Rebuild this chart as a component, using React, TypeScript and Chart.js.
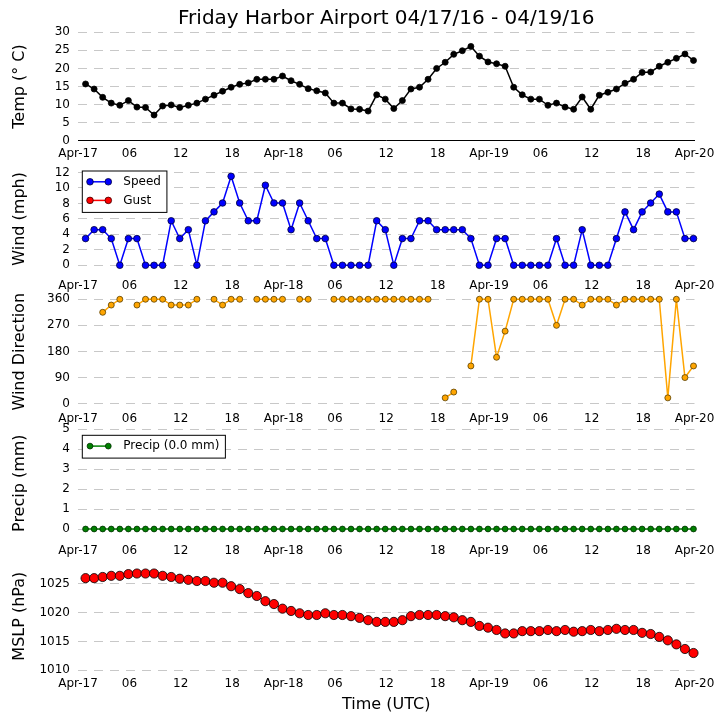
import React, { useEffect, useRef } from 'react';
import { Chart, registerables } from 'chart.js';

Chart.register(...registerables);

// observations every hour at :53, hours counted from 2016-04-17 00:00 UTC
const obsHours = Array.from({ length: 72 }, (_, i) => i + 53 / 60);

const xTickHours = [0, 6, 12, 18, 24, 30, 36, 42, 48, 54, 60, 66, 72];
const xTickLabels = ['Apr-17', '06', '12', '18', 'Apr-18', '06', '12', '18', 'Apr-19', '06', '12', '18', 'Apr-20'];

const tempValues = [
  15.7, 14.3, 12.0, 10.4, 9.8, 11.1, 9.3, 9.2, 7.1, 9.6, 9.9, 9.2, 9.8, 10.4, 11.5, 12.6, 13.7, 14.8,
  15.6, 16.0, 17.0, 17.0, 17.0, 17.9, 16.6, 15.6, 14.4, 13.8, 13.2, 10.4, 10.4, 8.8, 8.7, 8.2, 12.7, 11.5,
  8.9, 11.1, 14.3, 14.8, 17.0, 20.0, 21.7, 23.9, 24.9, 26.1, 23.4, 21.8, 21.3, 20.6, 14.8, 12.7, 11.5, 11.5,
  9.8, 10.4, 9.3, 8.7, 12.1, 8.7, 12.6, 13.4, 14.3, 15.9, 17.0, 18.9, 19.0, 20.6, 21.7, 22.8, 24.0, 22.2,
];

const speedValues = [
  3.45, 4.6, 4.6, 3.45, 0, 3.45, 3.45, 0, 0, 0, 5.75, 3.45, 4.6, 0, 5.75, 6.9, 8.05, 11.5,
  8.05, 5.75, 5.75, 10.35, 8.05, 8.05, 4.6, 8.05, 5.75, 3.45, 3.45, 0, 0, 0, 0, 0, 5.75, 4.6,
  0, 3.45, 3.45, 5.75, 5.75, 4.6, 4.6, 4.6, 4.6, 3.45, 0, 0, 3.45, 3.45, 0, 0, 0, 0,
  0, 3.45, 0, 0, 4.6, 0, 0, 0, 3.45, 6.9, 4.6, 6.9, 8.05, 9.2, 6.9, 6.9, 3.45, 3.45,
];
const gustValues: (number | null)[] = [];

const directionValues = [
  null, null, 315, 340, 360, null, 340, 360, 360, 360, 340, 340, 340, 360, null, 360, 340, 360,
  360, null, 360, 360, 360, 360, null, 360, 360, null, null, 360, 360, 360, 360, 360, 360, 360,
  360, 360, 360, 360, 360, null, 20, 40, null, 130, 360, 360, 160, 250, 360, 360, 360, 360,
  360, 270, 360, 360, 340, 360, 360, 360, 340, 360, 360, 360, 360, 360, 20, 360, 90, 130,
];

const precipValues = [
  0, 0, 0, 0, 0, 0, 0, 0, 0, 0, 0, 0, 0, 0, 0, 0, 0, 0,
  0, 0, 0, 0, 0, 0, 0, 0, 0, 0, 0, 0, 0, 0, 0, 0, 0, 0,
  0, 0, 0, 0, 0, 0, 0, 0, 0, 0, 0, 0, 0, 0, 0, 0, 0, 0,
  0, 0, 0, 0, 0, 0, 0, 0, 0, 0, 0, 0, 0, 0, 0, 0, 0, 0,
];

const mslpValues = [
  1026.0, 1026.0, 1026.2, 1026.4, 1026.4, 1026.7, 1026.8, 1026.8, 1026.8, 1026.4, 1026.2, 1025.9,
  1025.7, 1025.5, 1025.5, 1025.2, 1025.2, 1024.6, 1024.1, 1023.4, 1022.9, 1022.0, 1021.5, 1020.7,
  1020.3, 1019.9, 1019.6, 1019.6, 1019.9, 1019.6, 1019.6, 1019.4, 1019.1, 1018.7, 1018.4, 1018.4,
  1018.4, 1018.7, 1019.4, 1019.6, 1019.6, 1019.6, 1019.4, 1019.2, 1018.7, 1018.4, 1017.7, 1017.4,
  1017.0, 1016.4, 1016.4, 1016.8, 1016.8, 1016.8, 1017.0, 1016.8, 1017.0, 1016.7, 1016.8, 1017.0,
  1016.8, 1017.0, 1017.2, 1017.0, 1017.0, 1016.5, 1016.3, 1015.8, 1015.2, 1014.5, 1013.7, 1013.0,
];

const tempTicks = [0, 5, 10, 15, 20, 25, 30];
const windTicks = [0, 2, 4, 6, 8, 10, 12];
const directionTicks = [0, 90, 180, 270, 360];
const precipTicks = [0, 1, 2, 3, 4, 5];
const mslpTicks = [1010, 1015, 1020, 1025];

const SIZE = 725;
const PLOT_LEFT = 78;
const PLOT_RIGHT = 694.5;

const toPoints = (vals: (number | null)[]) => vals.map((y, i) => ({ x: obsHours[i], y }));

const series = (label: string, vals: (number | null)[], color: string, edge: string, r: number, lw = 1.5) => ({
  label,
  data: toPoints(vals),
  borderColor: color,
  backgroundColor: color,
  borderWidth: lw,
  pointRadius: r,
  pointBackgroundColor: color,
  pointBorderColor: edge,
  pointBorderWidth: 0.8,
  spanGaps: false,
  tension: 0,
  clip: false,
});

// matplotlib-like legend: a short line with a marker at each end
const boxLegend = {
  id: 'boxLegend',
  afterDraw(chart: any, _args: any, opts: any) {
    if (!opts || !opts.show) return;
    const { ctx, chartArea } = chart;
    const sets = chart.data.datasets;
    ctx.save();
    ctx.font = '12px "DejaVu Sans"';
    const rowH = 18.6;
    const x0 = chartArea.left + 4.3;
    const y0 = chartArea.top + 6.3;
    const textW = Math.max(...sets.map((d: any) => ctx.measureText(d.label).width));
    const w = 41 + textW + 6;
    const h = sets.length * rowH + 4.2;
    ctx.fillStyle = '#fff';
    ctx.fillRect(x0, y0, w, h);
    ctx.strokeStyle = '#000';
    ctx.lineWidth = 1;
    ctx.strokeRect(x0, y0, w, h);
    sets.forEach((d: any, i: number) => {
      const cy = y0 + 10.8 + i * rowH;
      ctx.strokeStyle = d.borderColor;
      ctx.lineWidth = d.borderWidth;
      ctx.beginPath();
      ctx.moveTo(x0 + 7.7, cy);
      ctx.lineTo(x0 + 26, cy);
      ctx.stroke();
      for (const px of [x0 + 7.7, x0 + 26]) {
        ctx.beginPath();
        ctx.arc(px, cy, d.pointRadius, 0, Math.PI * 2);
        ctx.fillStyle = d.pointBackgroundColor;
        ctx.fill();
        ctx.strokeStyle = d.pointBorderColor;
        ctx.lineWidth = d.pointBorderWidth;
        ctx.stroke();
      }
      ctx.fillStyle = '#000';
      ctx.textBaseline = 'middle';
      ctx.textAlign = 'left';
      ctx.fillText(d.label, x0 + 41, cy);
    });
    ctx.restore();
  },
};

const caption = {
  id: 'caption',
  afterDraw(chart: any, _args: any, opts: any) {
    if (!opts || !opts.text) return;
    const { ctx, chartArea } = chart;
    ctx.save();
    ctx.font = '20px "DejaVu Sans"';
    ctx.fillStyle = '#000';
    ctx.textAlign = 'center';
    ctx.textBaseline = 'middle';
    ctx.fillText(opts.text, (chartArea.left + chartArea.right) / 2, opts.y);
    ctx.restore();
  },
};

const panels = [
  {
    yTitle: 'Temp (° C)', ticks: tempTicks, min: 0, max: 30, top: 32.3, bottom: 140.7, xHeight: 30,
    axisLine: true, legend: false, xTitle: '', title: 'Friday Harbor Airport 04/17/16 - 04/19/16',
    datasets: [series('Temp', tempValues, '#000000', '#000000', 3)],
  },
  {
    yTitle: 'Wind (mph)', ticks: windTicks, min: -1, max: 13, top: 164.7, bottom: 273, xHeight: 30,
    axisLine: false, legend: true, xTitle: '', title: '',
    datasets: [
      series('Speed', speedValues, '#0000ff', '#00003a', 3.3),
      series('Gust', gustValues, '#ff0000', '#3a0000', 3.3),
    ],
  },
  {
    yTitle: 'Wind Direction', ticks: directionTicks, min: -7, max: 365, top: 297.8, bottom: 405.7, xHeight: 30,
    axisLine: false, legend: false, xTitle: '', title: '',
    datasets: [series('Direction', directionValues, '#ffa500', '#5a4000', 3)],
  },
  {
    yTitle: 'Precip (mm)', ticks: precipTicks, min: -0.42, max: 5, top: 429, bottom: 537.4, xHeight: 30,
    axisLine: false, legend: true, xTitle: '', title: '',
    datasets: [series('Precip (0.0 mm)', precipValues, '#008000', '#003000', 2.9)],
  },
  {
    yTitle: 'MSLP (hPa)', ticks: mslpTicks, min: 1010, max: 1028.8, top: 562, bottom: 670.3, xHeight: 45,
    axisLine: false, legend: false, xTitle: 'Time (UTC)', title: '',
    datasets: [series('MSLP', mslpValues, '#ff0000', '#000000', 4.6)],
  },
];

const App: React.FC = () => {
  const canvasRefs = useRef<(HTMLCanvasElement | null)[]>([]);

  useEffect(() => {
    Chart.defaults.font.family = '"DejaVu Sans", sans-serif';
    Chart.defaults.color = '#000';

    const charts = panels.map((p, idx) => {
      const canvas = canvasRefs.current[idx];
      if (!canvas) return null;
      return new Chart(canvas, {
        type: 'line',
        data: { datasets: p.datasets as any },
        options: {
          animation: false,
          responsive: false,
          events: [],
          layout: {
            padding: { top: p.top, left: 0, right: SIZE - PLOT_RIGHT, bottom: SIZE - p.bottom - p.xHeight },
          },
          plugins: {
            legend: { display: false },
            tooltip: { enabled: false },
            boxLegend: { show: p.legend },
            caption: { text: p.title, y: 19 },
          } as any,
          scales: {
            x: {
              type: 'linear',
              min: 0,
              max: 72,
              afterFit: (s: any) => { s.height = p.xHeight; },
              afterBuildTicks: (s: any) => { s.ticks = xTickHours.map((v) => ({ value: v })); },
              ticks: {
                autoSkip: false,
                maxRotation: 0,
                padding: 6,
                font: { size: 12 },
                callback: (v: any) => xTickLabels[xTickHours.indexOf(Number(v))] ?? '',
              },
              grid: { display: false, drawTicks: false },
              border: { display: p.axisLine, color: '#000', width: 1 },
              title: { display: !!p.xTitle, text: p.xTitle, font: { size: 16 }, padding: { top: 0, bottom: 1 } },
            },
            y: {
              min: p.min,
              max: p.max,
              afterFit: (s: any) => { s.width = PLOT_LEFT; },
              afterBuildTicks: (s: any) => { s.ticks = p.ticks.map((v) => ({ value: v })); },
              ticks: { padding: 8, font: { size: 12 }, callback: (v: any) => String(v) },
              grid: {
                drawTicks: false,
                lineWidth: 1,
                color: (c: any) => (p.axisLine && c.tick && c.tick.value === 0 ? 'rgba(0,0,0,0)' : '#c8c8c8'),
              },
              border: { display: false, dash: [9, 7] },
              title: { display: true, text: p.yTitle, font: { size: 16 }, padding: { top: 10, bottom: 0 } },
            },
          },
        },
        plugins: [boxLegend, caption],
      });
    });

    return () => {
      charts.forEach((c) => c && c.destroy());
    };
  }, []);

  return (
    <div style={{ position: 'fixed', left: 0, top: 0, width: SIZE, height: SIZE, background: '#fff' }}>
      {panels.map((p, idx) => (
        <canvas
          key={p.yTitle}
          ref={(el) => { canvasRefs.current[idx] = el; }}
          width={SIZE}
          height={SIZE}
          style={{ position: 'absolute', left: 0, top: 0 }}
        />
      ))}
    </div>
  );
};

export default App;
